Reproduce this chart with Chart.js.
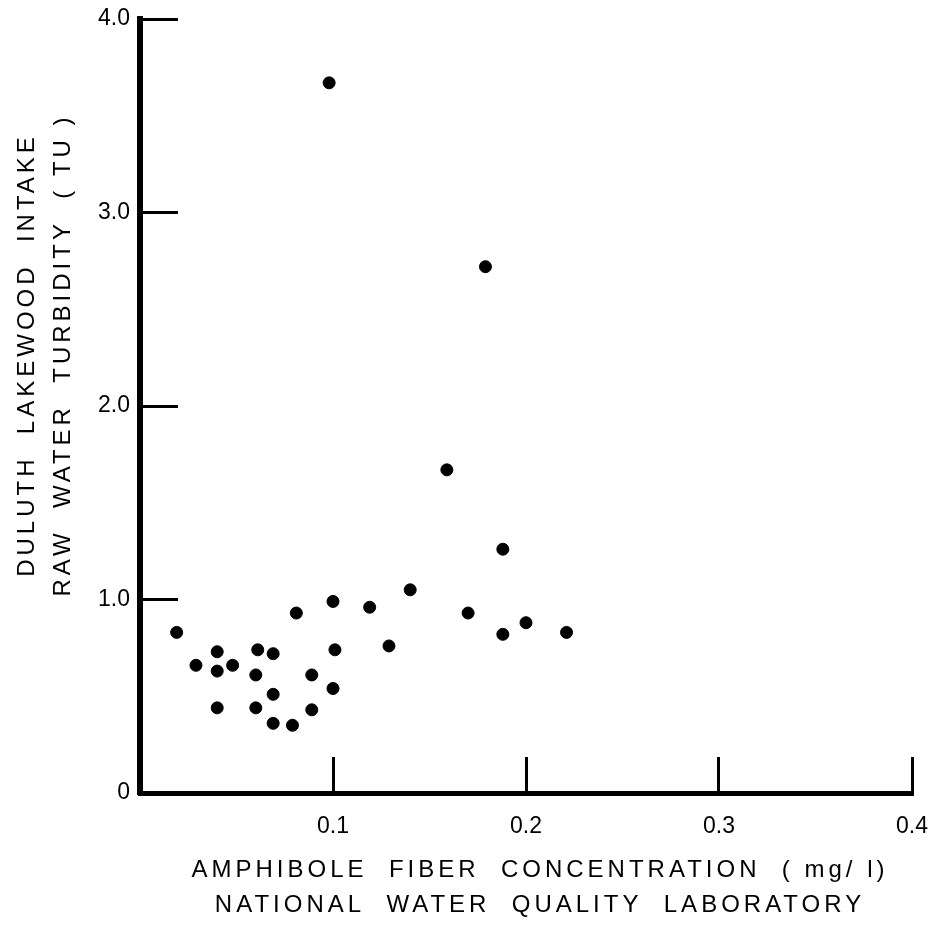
<!DOCTYPE html>
<html>
<head>
<meta charset="utf-8">
<script src="https://cdn.jsdelivr.net/npm/chart.js@4"></script>
<style>
  html, body { margin: 0; padding: 0; background: #fff; }
  #wrap { width: 944px; height: 925px; }
</style>
</head>
<body>
<div id="wrap"><canvas id="turbidityChart"></canvas></div>
<script>
// fiber concentration (mg/l) vs raw water turbidity (TU)
const fiberConc = [0.019, 0.029, 0.040, 0.040, 0.048, 0.040, 0.061, 0.069, 0.060, 0.069,
                   0.060, 0.069, 0.079, 0.089, 0.089, 0.081, 0.100, 0.101, 0.100, 0.119,
                   0.129, 0.140, 0.170, 0.188, 0.200, 0.221, 0.098, 0.179, 0.159, 0.188];
const turbidity = [0.83, 0.66, 0.73, 0.63, 0.66, 0.44, 0.74, 0.72, 0.61, 0.51,
                   0.44, 0.36, 0.35, 0.61, 0.43, 0.93, 0.99, 0.74, 0.54, 0.96,
                   0.76, 1.05, 0.93, 0.82, 0.88, 0.83, 3.67, 2.72, 1.67, 1.26];

const xTickLabels = ['', '0.1', '0.2', '0.3', '0.4'];
const yTickLabels = ['0', '1.0', '2.0', '3.0', '4.0'];
const xTitleLines = ['AMPHIBOLE  FIBER  CONCENTRATION  ( mg/ l)', 'NATIONAL  WATER  QUALITY  LABORATORY'];
const yTitleLines = ['DULUTH  LAKEWOOD  INTAKE', 'RAW  WATER  TURBIDITY  ( TU )'];

const points = fiberConc.map((x, i) => ({ x: x, y: turbidity[i] }));

const tickFont = { family: "'Liberation Sans', sans-serif", size: 23 };
const noZeroTick = ctx => ctx.tick && ctx.tick.value === 0 ? 'rgba(0,0,0,0)' : '#000';

// axis titles, spaced out like the lettering guide on the original
const axisTitles = {
    id: 'axisTitles',
    afterDraw(chart) {
        const ctx = chart.ctx;
        ctx.save();
        ctx.fillStyle = '#000';
        ctx.font = "24px 'Liberation Sans', sans-serif";
        ctx.letterSpacing = '4px';
        ctx.textAlign = 'center';
        ctx.textBaseline = 'middle';
        xTitleLines.forEach((t, i) => ctx.fillText(t, 540, 870 + i * 35));
        ctx.translate(45, 355);
        ctx.rotate(-Math.PI / 2);
        yTitleLines.forEach((t, i) => ctx.fillText(t, 0, -18 + i * 36));
        ctx.restore();
    }
};

new Chart(document.getElementById('turbidityChart'), {
    type: 'scatter',
    data: {
        datasets: [{
            data: points,
            backgroundColor: '#000',
            borderColor: '#000',
            pointRadius: 6,
            pointHoverRadius: 6
        }]
    },
    options: {
        responsive: true,
        maintainAspectRatio: false,
        animation: false,
        layout: { padding: { top: 19, right: 32, left: 0, bottom: 0 } },
        plugins: {
            legend: { display: false },
            tooltip: { enabled: false }
        },
        scales: {
            x: {
                type: 'linear',
                min: 0,
                max: 0.4,
                border: { display: true, color: '#000', width: 5 },
                grid: {
                    drawOnChartArea: false,
                    drawTicks: true,
                    tickLength: -36,
                    lineWidth: 3,
                    color: noZeroTick
                },
                ticks: {
                    stepSize: 0.1,
                    color: '#000',
                    font: tickFont,
                    padding: 56,
                    maxRotation: 0,
                    callback: (v, i) => xTickLabels[i]
                },
                afterFit: s => {
                    s.height = 132;
                    s.paddingLeft = 0;
                    s.paddingRight = 0;
                }
            },
            y: {
                type: 'linear',
                min: 0,
                max: 4,
                border: { display: true, color: '#000', width: 6 },
                grid: {
                    drawOnChartArea: false,
                    drawTicks: true,
                    tickLength: -38,
                    lineWidth: 3,
                    color: noZeroTick
                },
                ticks: {
                    stepSize: 1,
                    color: '#000',
                    font: tickFont,
                    padding: 48,
                    callback: (v, i) => yTickLabels[i]
                },
                afterFit: s => {
                    s.width = 140;
                    s.paddingTop = 0;
                    s.paddingBottom = 0;
                }
            }
        }
    },
    plugins: [axisTitles]
});
</script>
</body>
</html>
